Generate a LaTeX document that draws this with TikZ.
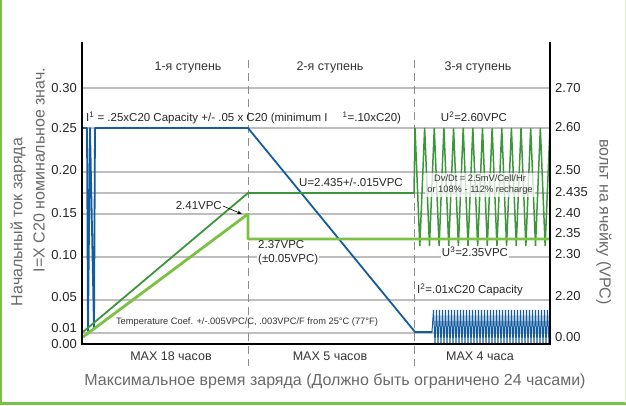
\documentclass[tikz,border=0pt]{standalone}
\usepackage{fontspec}
\setmainfont{Liberation Sans}
\usepackage{xcolor}
\usepackage{tikz}
\definecolor{chargeblue}{RGB}{20, 92, 160}
\definecolor{voltgreen}{RGB}{62, 150, 58}
\definecolor{floatgreen}{RGB}{124, 194, 66}
\definecolor{gridgray}{RGB}{190, 190, 190}
\definecolor{dashgray}{RGB}{140, 140, 140}
\definecolor{titlegray}{RGB}{105, 105, 105}
\definecolor{framegreen}{RGB}{122, 193, 67}
\usetikzlibrary{arrows.meta,positioning}

\begin{document}
\begin{tikzpicture}[
    x=1pt, y=-1pt,
    gridline/.style={gridgray, line width=1.4pt},
    stagesep/.style={dashgray, line width=1pt, dash pattern=on 8pt off 5pt},
    ticklabel/.style={font=\fontsize{13}{15}\selectfont, text=black!85, inner sep=0pt},
    stagelabel/.style={font=\fontsize{12.5}{14}\selectfont, text=black!80, inner sep=1pt},
    note/.style={font=\fontsize{11.5}{13}\selectfont, text=black!85, inner sep=1pt},
    smallnote/.style={font=\fontsize{9.3}{11}\selectfont, text=black!80, inner sep=1pt},
    axistitle/.style={font=\fontsize{16}{18}\selectfont, text=titlegray, inner sep=0pt}
]
    \useasboundingbox (0,0) rectangle (626,405);

    % Grid
    \foreach \ypos in {88,128,172,193,214,257,300,333}
        \draw[gridline] (82,\ypos) -- (550,\ypos);
    \draw[stagesep] (248,60) -- (248,366);
    \draw[stagesep] (414,60) -- (414,366);

    % Charge current
    \draw[chargeblue, line width=1.8pt, line join=round]
        (82,182) -- (82,128) -- (87,128) -- (88,331) -- (90,128) -- (94,329) -- (95,128)
        -- (248,128) -- (415,332) -- (432,332);
    \draw[chargeblue, line width=1pt]
        (432,332) \foreach \i in {0,...,38} { -- ({433.5+3*\i},310) -- ({435+3*\i},343) };

    % Cell voltage
    \draw[voltgreen, line width=1.8pt, line join=round]
        (83,332) -- (248,193) -- (414,193);
    \draw[voltgreen, line width=1.5pt]
        (414,193) -- (415,128)
        \foreach \i in {0,...,13} { -- ({419.82+9.64*\i},246) -- ({424.64+9.64*\i},128) };
    \draw[floatgreen, line width=2.8pt, line join=round]
        (83,337) -- (248,214) -- (248,239) -- (550,239);

    % Axes
    \draw[black, line width=2pt] (82,42) -- (82,344) -- (550,344) -- (550,42);

    % Tick labels
    \foreach \val/\ypos in {0.30/88, 0.25/128, 0.20/170, 0.15/213, 0.10/255, 0.05/297, 0.01/328, 0.00/344}
        \node[ticklabel, anchor=east] (amp-\ypos) at (77,\ypos) {\val};
    \foreach \val/\ypos in {2.70/88, 2.60/127, 2.50/170, 2.435/192, 2.40/213, 2.35/233, 2.30/254, 2.20/296, 0.00/337}
        \node[ticklabel, anchor=west] (vpc-\ypos) at (555,\ypos) {\val};

    % Stages
    \node[stagelabel] (stageone) at (188,67) {1-я ступень};
    \node[stagelabel] (stagetwo) at (330,67) {2-я ступень};
    \node[stagelabel] (stagethree) at (478,67) {3-я ступень};
    \node[stagelabel] (maxone) at (171,356) {MAX 18 часов};
    \node[stagelabel] (maxtwo) at (330,356) {MAX 5 часов};
    \node[stagelabel] (maxthree) at (480,356) {MAX 4 часа};

    % Notes
    \node[note, anchor=west] (ione) at (85,118)
        {I\textsuperscript{1} = .25xC20 Capacity +/- .05 x C20 (minimum I\hspace{15pt}\textsuperscript{1}=.10xC20)};
    \node[note] (utwo) at (474,117) {U\textsuperscript{2}=2.60VPC};
    \node[note] (uone) at (351,182) {U=2.435+/-.015VPC};
    \node[smallnote, fill=white, fill opacity=0.75, text opacity=1, align=center, inner sep=2pt] (dvdt) at (480,185)
        {Dv/Dt = 2.5mV/Cell/Hr\\or 108\% - 112\% recharge};
    \node[note, fill=white] (uthree) at (475,252) {U\textsuperscript{3}=2.35VPC};
    \node[note, anchor=west] (itwo) at (416,290) {I\textsuperscript{2}=.01xC20 Capacity};
    \node[smallnote] (tempcoef) at (247,322) {Temperature Coef. +/-.005VPC/C, .003VPC/F from 25°C (77°F)};
    \node[note, anchor=east] (peakvpc) at (223,206) {2.41VPC};
    \coordinate (peaktop) at (242,214);
    \draw[black, line width=0.6pt, -{Stealth[length=5pt, width=3.5pt]}] (peakvpc.east) -- (peaktop);
    \node[note, anchor=west] (floatvpc) at (257,245) {2.37VPC};
    \node[note, anchor=west, fill=white] (floattol) at (257,260) {(±0.05VPC)};

    % Axis titles
    \node[axistitle] (xtitle) at (335,381) {Максимальное время заряда (Должно быть ограничено 24 часами)};
    \node[axistitle, rotate=90] (ytitleone) at (18,222) {Начальный ток заряда};
    \node[axistitle, rotate=90] (ytitletwo) at (39,170) {I=X C20 номинальное знач.};
    \node[axistitle, rotate=-90] (ytitleright) at (604,222) {вольт на ячейку (VPC)};

    % Frame
    \draw[framegreen, line width=2.5pt] (1.2,0) -- (1.2,403.7) -- (626,403.7);
    \draw[framegreen!25, line width=1pt] (625.5,0) -- (625.5,403);
\end{tikzpicture}
\end{document}
